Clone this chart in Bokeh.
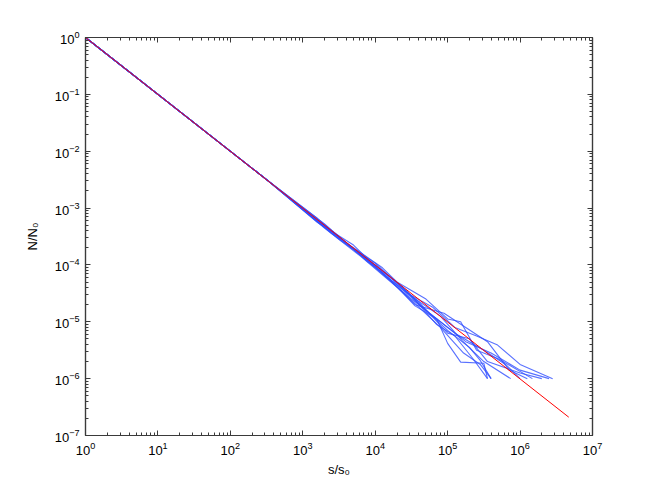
import numpy as np
from bokeh.plotting import figure
from bokeh.models import Range1d, FixedTicker, LogAxis, CustomJSTickFormatter
from bokeh.embed import file_html
from bokeh.resources import INLINE

# ---- data (log10 of s/s0 and of N/N0 for each run) ----
run1_logs = [0, 2.5, 3.0, 3.5, 3.8, 4.2, 4.55, 4.85, 5.0, 5.18, 5.5, 5.55]
run1_logn = [0, -2.5, -3.02, -3.55, -3.82, -4.25, -4.72, -4.95, -5.38, -5.71, -5.73, -6.0]
run2_logs = [0, 2.5, 3.1, 3.6, 4.0, 4.4, 4.7, 5.0, 5.3, 5.45, 5.6]
run2_logn = [0, -2.5, -3.12, -3.62, -4.0, -4.42, -4.8, -5.15, -5.45, -5.68, -6.0]
run3_logs = [0, 2.5, 3.2, 3.7, 4.1, 4.5, 4.9, 5.2, 5.5, 5.87]
run3_logn = [0, -2.5, -3.25, -3.65, -4.15, -4.55, -4.9, -5.33, -5.7, -6.0]
run4_logs = [0, 2.5, 3.3, 3.9, 4.3, 4.7, 5.0, 5.18, 5.4, 5.7, 6.17]
run4_logn = [0, -2.5, -3.28, -3.95, -4.3, -4.6, -4.95, -5.0, -5.5, -5.65, -6.0]
run5_logs = [0, 2.5, 3.4, 4.0, 4.45, 4.8, 5.1, 5.4, 5.69, 6.0, 6.45]
run5_logn = [0, -2.5, -3.45, -3.97, -4.5, -4.75, -5.1, -5.25, -5.41, -5.75, -6.0]
run6_logs = [0, 2.5, 3.5, 4.0, 4.5, 4.9, 5.25, 5.6, 6.0, 6.4]
run6_logn = [0, -2.5, -3.5, -4.05, -4.6, -5.0, -5.35, -5.55, -5.85, -6.0]
run7_logs = [0, 2.5, 3.3, 3.8, 4.4, 4.9, 5.22, 5.45, 5.6]
run7_logn = [0, -2.5, -3.35, -3.85, -4.5, -5.1, -5.55, -5.75, -6.0]
run8_logs = [0, 2.5, 3.6, 4.2, 4.6, 5.0, 5.3, 5.55, 6.0, 6.3]
run8_logn = [0, -2.5, -3.62, -4.2, -4.65, -5.2, -5.3, -5.7, -5.9, -6.0]
run9_logs = [0, 2.5, 3.4, 4.0, 4.55, 4.95, 5.25, 5.55, 5.85, 6.1]
run9_logn = [0, -2.5, -3.42, -4.02, -4.7, -4.85, -5.1, -5.35, -5.85, -6.0]
run10_logs = [0, 2.5, 3.5, 4.1, 4.5, 4.85, 5.1, 5.35, 5.55]
run10_logn = [0, -2.5, -3.52, -4.05, -4.55, -5.05, -5.25, -5.65, -6.0]
run11_logs = [0, 2.5, 3.2, 3.7, 4.3, 4.75, 5.1, 5.5, 5.8, 6.0]
run11_logn = [0, -2.5, -3.18, -3.72, -4.35, -4.85, -5.2, -5.5, -5.75, -6.0]

runs = [
    (run1_logs, run1_logn), (run2_logs, run2_logn), (run3_logs, run3_logn),
    (run4_logs, run4_logn), (run5_logs, run5_logn), (run6_logs, run6_logn),
    (run7_logs, run7_logn), (run8_logs, run8_logn), (run9_logs, run9_logn),
    (run10_logs, run10_logn), (run11_logs, run11_logn),
]

fit_s = [1, 4.7e6]
fit_n = [1, 2.1e-7]

x_ticks = [1, 1e1, 1e2, 1e3, 1e4, 1e5, 1e6, 1e7]
y_ticks = [1e-7, 1e-6, 1e-5, 1e-4, 1e-3, 1e-2, 1e-1, 1]

x_minor = [m * d for d in x_ticks[:-1] for m in range(2, 10)]
y_minor = [m * d for d in y_ticks[:-1] for m in range(2, 10)]

FONT = "Liberation Sans"
AX = "#3a3a3a"

p = figure(width=654, height=491, x_axis_type="log", y_axis_type="log",
           x_range=Range1d(1, 1e7), y_range=Range1d(1e-7, 1),
           output_backend="svg", toolbar_location=None,
           min_border_left=85, min_border_right=62, min_border_top=37, min_border_bottom=56)
p.xgrid.visible = False
p.ygrid.visible = False
p.outline_line_color = AX
p.outline_line_width = 1.2
p.background_fill_color = "white"
p.border_fill_color = "white"

for ls, ln in runs:
    xs = np.power(10.0, np.array(ls))
    ys = np.power(10.0, np.array(ln))
    p.line(xs, ys, line_color="#2f4dff", line_alpha=0.8, line_width=1.1)

p.line(fit_s, fit_n, line_color="#ff0000", line_width=1)

def style(ax, ticks, minor, show_labels=True):
    ax.ticker = FixedTicker(ticks=ticks, minor_ticks=minor)
    ax.major_tick_in = 5
    ax.major_tick_out = 0
    ax.minor_tick_in = 3
    ax.minor_tick_out = 0
    ax.axis_line_color = AX
    ax.axis_line_width = 1.2
    ax.major_tick_line_color = AX
    ax.minor_tick_line_color = AX
    ax.major_label_text_font = FONT
    ax.major_label_text_font_size = "13px"
    ax.major_label_text_color = "black"
    ax.axis_label_text_font = FONT
    ax.axis_label_text_font_size = "13px"
    ax.axis_label_text_font_style = "normal"
    ax.axis_label_text_color = "black"
    if not show_labels:
        ax.formatter = CustomJSTickFormatter(code="return ''")
        ax.major_label_standoff = 0

xa = p.xaxis[0]
ya = p.yaxis[0]
style(xa, x_ticks, x_minor)
style(ya, y_ticks, y_minor)
xa.axis_label = "s/s₀"
ya.axis_label = "N/N₀"
xa.major_label_standoff = 6
ya.major_label_standoff = 6
xa.axis_label_standoff = 4
ya.axis_label_standoff = 12

top = LogAxis()
right = LogAxis()
style(top, x_ticks, x_minor, show_labels=False)
style(right, y_ticks, y_minor, show_labels=False)
p.add_layout(top, "above")
p.add_layout(right, "right")

open("out.html", "w").write(file_html(p, INLINE))
